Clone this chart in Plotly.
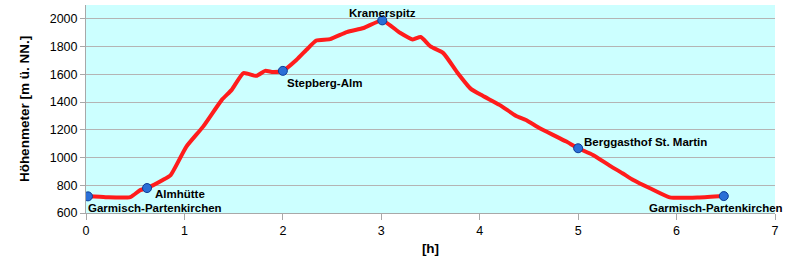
import plotly.graph_objects as go

# Elevation profile (hours, metres)
hours = [0.02, 0.2, 0.45, 0.55, 0.62, 0.78, 0.86, 1.02, 1.19, 1.38, 1.48, 1.60, 1.73, 1.82, 1.90, 2.0,
         2.14, 2.24, 2.34, 2.48, 2.65, 2.82, 3.01, 3.19, 3.32, 3.40, 3.50, 3.63, 3.77, 3.91, 4.03,
         4.20, 4.37, 4.47, 4.61, 4.78, 4.88, 5.0, 5.15, 5.32, 5.45, 5.56, 5.73, 5.93, 6.23, 6.48]
elev = [720, 714, 715, 765, 780, 838, 874, 1079, 1223, 1416, 1488, 1609, 1589, 1625, 1616, 1625,
        1705, 1777, 1844, 1854, 1905, 1934, 1989, 1900, 1852, 1869, 1801, 1753, 1615, 1495, 1445,
        1380, 1300, 1271, 1211, 1151, 1115, 1067, 1019, 942, 887, 838, 778, 713, 712, 722]

# Waypoints
wp_names = ["Garmisch-Partenkirchen", "Almhütte", "Stepberg-Alm", "Kramerspitz",
            "Berggasthof St. Martin", "Garmisch-Partenkirchen"]
wp_hours = [0.02, 0.62, 2.0, 3.01, 5.0, 6.48]
wp_elev = [720, 780, 1625, 1989, 1067, 722]
wp_xanchor = ["left", "left", "left", "center", "left", "center"]
wp_yanchor = ["top", "middle", "top", "bottom", "bottom", "top"]
wp_xshift = [-2, 6, 2, 0, 4, -8]
wp_yshift = [-4, -6, -4, -1, -2, -4]

x_ticks = [0, 1, 2, 3, 4, 5, 6, 7]
y_ticks = [600, 800, 1000, 1200, 1400, 1600, 1800, 2000]

fig = go.Figure()
fig.add_trace(go.Scatter(x=hours, y=elev, mode="lines",
                         line=dict(color="#ff1c1c", width=4, shape="spline", smoothing=0.5),
                         hoverinfo="skip", showlegend=False))
fig.add_trace(go.Scatter(x=wp_hours, y=wp_elev, mode="markers",
                         marker=dict(size=9, color="#2a6fd6", line=dict(color="#0b3d99", width=1)),
                         showlegend=False))

for n, hx, ey, xa, ya, xs, ys in zip(wp_names, wp_hours, wp_elev, wp_xanchor, wp_yanchor, wp_xshift, wp_yshift):
    fig.add_annotation(x=hx, y=ey, text="<b>%s</b>" % n, showarrow=False,
                       xanchor=xa, yanchor=ya, xshift=xs, yshift=ys,
                       font=dict(family="Liberation Sans, Arial", size=11.5, color="#000000"))

axis_font = dict(family="Liberation Sans, Arial", size=12.5, color="#000000")
title_font = dict(family="Liberation Sans, Arial", size=13.5, color="#000000")
fig.update_layout(
    width=795, height=265,
    margin=dict(l=86, r=20, t=5, b=52),
    paper_bgcolor="white", plot_bgcolor="#ccffff",
    font=axis_font,
    xaxis=dict(range=[0, 7], tickvals=x_ticks, showgrid=False, zeroline=False,
               showline=True, linecolor="#a8a8a8", linewidth=1,
               ticks="outside", ticklen=6, tickcolor="#a8a8a8",
               tickfont=axis_font,
               title=dict(text="<b>[h]</b>", font=title_font, standoff=6)),
    yaxis=dict(range=[600, 2100], tickvals=y_ticks, showgrid=True, gridcolor="#b4b4b4",
               zeroline=False, showline=True, linecolor="#a8a8a8", linewidth=1,
               ticks="outside", ticklen=5, tickcolor="#a8a8a8",
               tickfont=axis_font,
               title=dict(text="<b>Höhenmeter [m ü. NN.]</b>", font=title_font, standoff=16)),
)

fig.write_html("out.html")
